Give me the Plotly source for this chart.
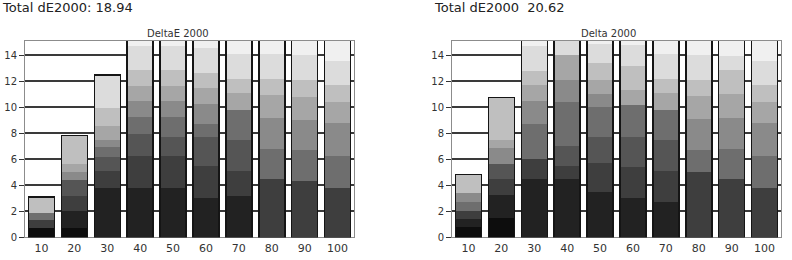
import plotly.graph_objects as go

categories = ["10", "20", "30", "40", "50", "60", "70", "80", "90", "100"]
y_ticks = [0, 2, 4, 6, 8, 10, 12, 14]

left_title = "Total dE2000: 18.94"
right_title = "Total dE2000  20.62"
left_sub = "DeltaE 2000"
right_sub = "Delta 2000"

# grey levels of the stacked segments, bottom to top
layer_colors = ["#0d0d0d", "#222222", "#3e3e3e", "#555555", "#6e6e6e",
                "#8a8a8a", "#a6a6a6", "#bfbfbf", "#dcdcdc", "#f0f0f0"]

# left panel segment heights per bar (one list per grey layer)
left_l0 = [0.7, 0.75, 0, 0, 0, 0, 0, 0, 0, 0]
left_l1 = [0, 1.28, 3.8, 3.83, 3.83, 3.0, 3.2, 0, 0, 0]
left_l2 = [0.6, 1.13, 1.28, 2.4, 2.4, 2.5, 1.9, 4.5, 4.3, 3.83]
left_l3 = [0, 1.28, 1.13, 1.73, 1.5, 2.25, 2.4, 0, 0, 0]
left_l4 = [0.6, 0, 0.75, 1.28, 1.5, 1.0, 2.3, 2.3, 2.4, 2.4]
left_l5 = [0, 0.6, 0.5, 1.28, 1.28, 1.5, 0, 2.4, 2.3, 2.6]
left_l6 = [0, 0.6, 1.13, 1.13, 1.13, 1.2, 1.28, 1.73, 1.8, 1.6]
left_l7 = [1.2, 2.2, 1.35, 1.2, 1.2, 1.2, 1.13, 1.28, 1.3, 1.28]
left_l8 = [0, 0, 2.56, 1.88, 1.88, 1.9, 1.88, 1.88, 1.9, 1.88]
left_l9 = [0, 0, 0, 0.6, 0.6, 0.75, 1.2, 1.2, 1.3, 1.7]

# right panel segment heights per bar
right_l0 = [0.83, 1.5, 0, 0, 0, 0, 0, 0, 0, 0]
right_l1 = [0.6, 1.73, 4.5, 4.5, 3.5, 3.0, 2.7, 0, 0, 0]
right_l2 = [0.6, 1.28, 1.5, 1.0, 2.2, 2.4, 2.4, 5.0, 4.5, 3.83]
right_l3 = [0, 1.13, 0, 1.5, 2.0, 2.3, 2.4, 0, 0, 0]
right_l4 = [0.68, 0, 2.7, 3.4, 2.3, 2.5, 2.3, 1.73, 2.3, 2.4]
right_l5 = [0.68, 1.2, 1.8, 1.73, 1.0, 0, 0, 2.4, 2.4, 2.6]
right_l6 = [0, 0.68, 1.2, 1.88, 1.1, 1.13, 1.28, 1.73, 1.8, 1.6]
right_l7 = [1.43, 3.23, 1.13, 0, 1.3, 1.88, 1.13, 1.28, 1.88, 1.28]
right_l8 = [0, 0, 1.88, 1.3, 1.5, 1.6, 1.88, 1.88, 1.1, 1.88]
right_l9 = [0, 0, 0.6, 0, 0.4, 0.5, 1.2, 1.3, 1.3, 1.7]

left_layers = [left_l0, left_l1, left_l2, left_l3, left_l4,
               left_l5, left_l6, left_l7, left_l8, left_l9]
right_layers = [right_l0, right_l1, right_l2, right_l3, right_l4,
                right_l5, right_l6, right_l7, right_l8, right_l9]

fig = go.Figure()
for layers, xa, ya, xo, yo in [(left_layers, "x", "y", "x3", "y3"),
                               (right_layers, "x2", "y2", "x4", "y4")]:
    for col, vals in zip(layer_colors, layers):
        fig.add_trace(go.Bar(
            x=categories, y=vals, xaxis=xa, yaxis=ya,
            marker=dict(color=col, line=dict(color=col, width=0)),
            showlegend=False, hoverinfo="skip",
        ))
    totals = [sum(v) for v in zip(*layers)]
    fig.add_trace(go.Bar(
        x=categories, y=totals, xaxis=xo, yaxis=yo,
        marker=dict(color="rgba(0,0,0,0)", line=dict(color="#151515", width=1.5)),
        showlegend=False, hoverinfo="skip",
    ))

font = "DejaVu Sans"
y_bottom = 17 / 260
y_top = 218 / 260
left_dom = [25 / 792, 354 / 792]
right_dom = [452 / 792, 781 / 792]
axis_common = dict(
    showline=True, linecolor="#8c8c8c", linewidth=1, mirror=True,
)
yaxis_common = dict(
    range=[0, 15.1], tickvals=y_ticks, ticks="outside", ticklen=5,
    tickcolor="#333333", showgrid=True, gridcolor="#3a3a3a", gridwidth=1.5,
    tickfont=dict(family=font, size=10, color="#333333"), zeroline=False,
    domain=[y_bottom, y_top], **axis_common,
)
xaxis_common = dict(
    type="category", ticks="", showgrid=False,
    tickfont=dict(family=font, size=11, color="#333333"), **axis_common,
)
overlay_x = dict(type="category", visible=False, showgrid=False)
overlay_y = dict(range=[0, 15.1], visible=False, showgrid=False,
                 domain=[y_bottom, y_top])

fig.update_layout(
    width=792, height=260, margin=dict(l=0, r=0, t=0, b=0),
    barmode="stack", bargap=0.21,
    paper_bgcolor="white", plot_bgcolor="rgba(0,0,0,0)",
    xaxis=dict(domain=left_dom, anchor="y", **xaxis_common),
    yaxis=dict(anchor="x", **yaxis_common),
    xaxis2=dict(domain=right_dom, anchor="y2", **xaxis_common),
    yaxis2=dict(anchor="x2", **yaxis_common),
    xaxis3=dict(domain=left_dom, anchor="y3", **overlay_x),
    yaxis3=dict(anchor="x3", **overlay_y),
    xaxis4=dict(domain=right_dom, anchor="y4", **overlay_x),
    yaxis4=dict(anchor="x4", **overlay_y),
    annotations=[
        dict(text=left_title, x=0, y=1, xref="paper", yref="paper",
             xanchor="left", yanchor="top", yshift=2, showarrow=False,
             font=dict(family=font, size=13, color="#222222")),
        dict(text=right_title, x=432 / 792, y=1, xref="paper", yref="paper",
             xanchor="left", yanchor="top", yshift=2, showarrow=False,
             font=dict(family=font, size=13, color="#222222")),
        dict(text=left_sub, x=178 / 792, y=y_top, xref="paper", yref="paper",
             xanchor="center", yanchor="bottom", showarrow=False,
             font=dict(family=font, size=10, color="#333333")),
        dict(text=right_sub, x=608 / 792, y=y_top, xref="paper", yref="paper",
             xanchor="center", yanchor="bottom", showarrow=False,
             font=dict(family=font, size=10, color="#333333")),
    ],
)

fig.write_html("out.html")
